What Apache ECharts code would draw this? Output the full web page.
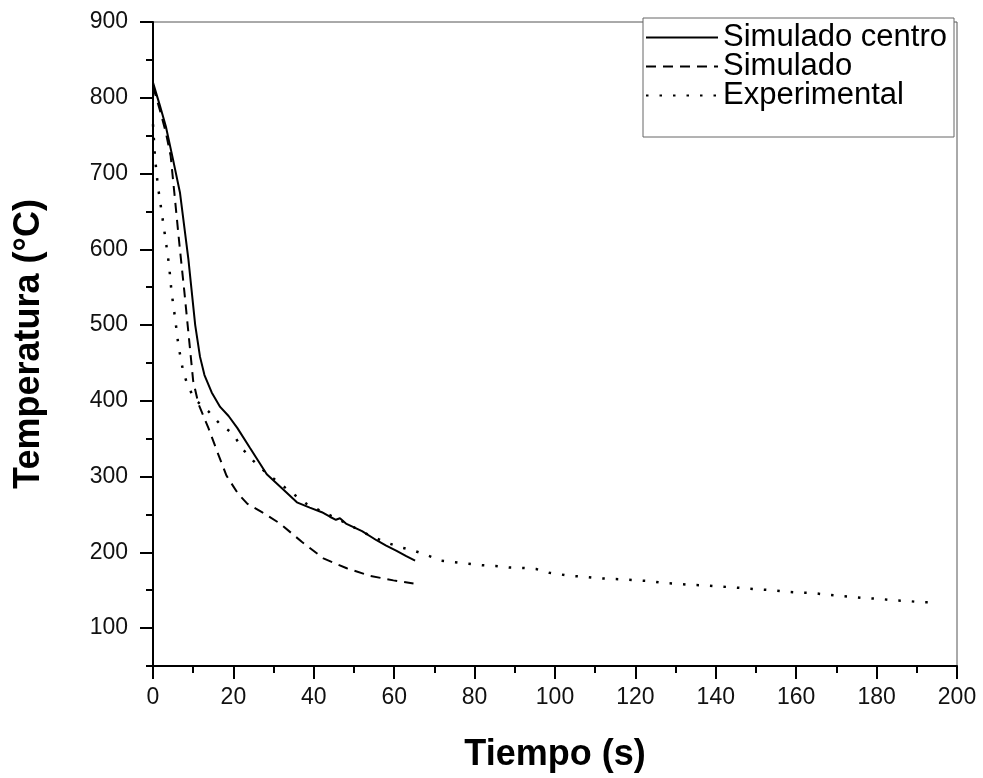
<!DOCTYPE html>
<html>
<head>
<meta charset="utf-8">
<script src="https://cdn.jsdelivr.net/npm/echarts@6/dist/echarts.min.js"></script>
<style>
  html, body { margin: 0; padding: 0; background: #fff; }
  #chart { width: 983px; height: 778px; }
</style>
</head>
<body>
<div id="chart"></div>
<script>
// Cooling curves: temperature (°C) versus time (s)
const seriesNames = ['Simulado centro', 'Simulado', 'Experimental'];

// Simulado centro (solid)
const timeCentro = [0, 1.7, 3.2, 5, 6.7, 8.8, 10.5, 11.7, 12.8, 14.6, 16.7, 18.8, 21, 24.1, 28.3, 32, 35.8, 39, 42, 44, 45.5, 46.5, 48, 50, 52, 55.6, 58, 60.6, 63, 65.2];
const tempCentro = [820, 790, 762, 718, 675, 587, 500, 458, 434, 411, 392, 380, 364, 338, 303, 285, 266, 259, 253, 247, 243, 245, 238, 233, 228, 216, 209, 202, 195, 189];

// Simulado (dashed)
const timeSim = [0, 1.7, 3.2, 4.4, 5.3, 6.6, 7.8, 8.9, 10.0, 11.3, 13.8, 15.9, 18.3, 21.2, 23.5, 25.8, 27.1, 31.6, 37, 42.4, 48.2, 54, 59.8, 64.8];
const tempSim = [815, 784, 754, 723, 675, 605, 544, 485, 426, 396, 364, 334, 301, 277, 264, 257, 253, 238, 214, 192, 179, 169, 163, 159];

// Experimental (dotted)
const timeExp = [0, 0.5, 1.2, 2.1, 3.1, 4.0, 4.6, 5.5, 6.3, 6.9, 7.5, 8.7, 10.4, 13.8, 16.7, 20, 22, 24.9, 27.9, 31.5, 34.9, 38.2, 42, 46, 50, 54, 58, 61.4, 65.0, 68.3, 71.7, 75.0, 78.5, 81.8, 85.2, 88.5, 91.9, 95.3, 98.6, 100.1, 103.6, 107.0, 110.3, 113.7, 117.0, 120.3, 123.8, 127.1, 130.4, 133.7, 137.2, 140.6, 144.0, 147.3, 150.7, 154.0, 157.4, 160.7, 164.1, 167.4, 170.9, 174.3, 177.5, 180.9, 184.2, 187.6, 191.0, 194.5];
const tempExp = [765, 721, 684, 651, 614, 579, 544, 509, 474, 456, 439, 419, 402, 386, 369, 356, 338, 321, 306, 291, 277, 264, 254, 244, 233, 222, 213, 207, 202, 196, 189, 187, 185, 183, 182, 180, 179.5, 178, 173, 172, 169, 168, 166, 165, 164.3, 163, 162, 159.5, 158.6, 157, 156.5, 155, 154, 152.5, 151.2, 150, 148.1, 146.8, 146.4, 144.2, 142.5, 141.1, 139.4, 138.6, 136.7, 135.9, 134.1, 134.1];

// Axis ticks
const yMajorTicks = [100, 200, 300, 400, 500, 600, 700, 800, 900];
const xMin = 0, xMax = 200, xStep = 20;
const yMin = 50, yMax = 900, yMinorStep = 50;

const zip = (xs, ys) => xs.map((x, i) => [x, ys[i]]);
const FONT = '"Liberation Sans", Arial, Helvetica, sans-serif';

const chart = echarts.init(document.getElementById('chart'), null, { renderer: 'canvas' });

chart.setOption({
  backgroundColor: '#ffffff',
  animation: false,
  grid: {
    left: 153, right: 26, top: 22, bottom: 108,
    show: true, borderColor: '#555', borderWidth: 1, backgroundColor: 'transparent'
  },
  legend: {
    orient: 'vertical',
    left: 643, top: 18,
    padding: [4, 7, 26, 2],
    itemWidth: 72, itemHeight: 14, itemGap: -2,
    backgroundColor: '#fff',
    borderColor: '#666', borderWidth: 1,
    itemStyle: { opacity: 0 },
    data: seriesNames,
    textStyle: { fontFamily: FONT, fontSize: 31, color: '#000', lineHeight: 29 }
  },
  xAxis: {
    type: 'value', min: xMin, max: xMax, interval: xStep,
    name: 'Tiempo (s)', nameLocation: 'middle', nameGap: 71,
    nameTextStyle: { fontFamily: FONT, fontSize: 36, fontWeight: 'bold', color: '#000' },
    axisLine: { show: true, onZero: false, lineStyle: { color: '#000', width: 2 } },
    axisTick: { show: true, inside: false, length: 13, lineStyle: { color: '#000', width: 2 } },
    minorTick: { show: true, splitNumber: 2, length: 7, lineStyle: { color: '#000', width: 2 } },
    axisLabel: { margin: 20, fontFamily: FONT, fontSize: 23, color: '#111' },
    splitLine: { show: false }
  },
  yAxis: [
    {
      type: 'value', min: yMin, max: yMax, position: 'left',
      name: 'Temperatura (°C)', nameLocation: 'middle', nameGap: 106,
      nameTextStyle: { fontFamily: FONT, fontSize: 36, fontWeight: 'bold', color: '#000' },
      axisLine: { show: true, onZero: false, lineStyle: { color: '#000', width: 2 } },
      axisTick: { show: true, inside: false, length: 13, customValues: yMajorTicks, lineStyle: { color: '#000', width: 2 } },
      axisLabel: { margin: 25, customValues: yMajorTicks, fontFamily: FONT, fontSize: 23, color: '#111' },
      splitLine: { show: false }
    },
    {
      // short intermediate ticks every 50 °C
      type: 'value', min: yMin, max: yMax, interval: yMinorStep, position: 'left',
      axisLine: { show: false },
      axisTick: { show: true, inside: false, length: 7, lineStyle: { color: '#000', width: 2 } },
      axisLabel: { show: false },
      splitLine: { show: false }
    }
  ],
  series: [
    {
      name: 'Experimental', type: 'line', yAxisIndex: 0,
      data: zip(timeExp, tempExp),
      symbol: 'none', smooth: false,
      lineStyle: { color: '#000', width: 2.5, type: [2.5, 11] },
      itemStyle: { color: '#000' },
      z: 2
    },
    {
      name: 'Simulado', type: 'line', yAxisIndex: 0,
      data: zip(timeSim, tempSim),
      symbol: 'none', smooth: false,
      lineStyle: { color: '#000', width: 2, type: [10, 7] },
      itemStyle: { color: '#000' },
      z: 3
    },
    {
      name: 'Simulado centro', type: 'line', yAxisIndex: 0,
      data: zip(timeCentro, tempCentro),
      symbol: 'none', smooth: false,
      lineStyle: { color: '#000', width: 2 },
      itemStyle: { color: '#000' },
      z: 4
    }
  ]
});
</script>
</body>
</html>
